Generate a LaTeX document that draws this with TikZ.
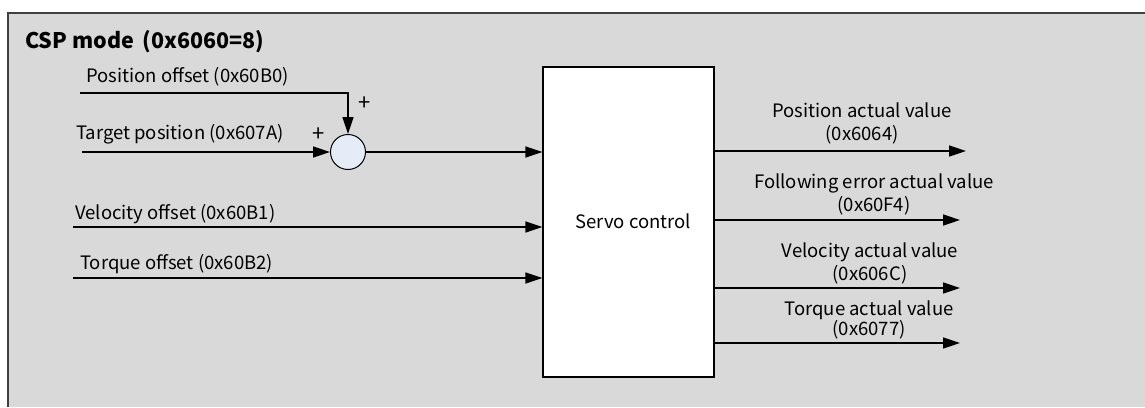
\documentclass[tikz,border=0pt]{standalone}
\usepackage{fontspec}
\setmainfont{Noto Sans CJK SC}
\usetikzlibrary{arrows.meta,positioning}

\definecolor{panelgray}{HTML}{D9D9D9}
\definecolor{sumblue}{HTML}{E6ECF7}

\tikzset{
  sigline/.style={line width=1.5pt, -{Triangle[length=17pt,width=11pt]}},
  inlabel/.style={anchor=west, inner sep=0pt},
  outlabel/.style={align=center, inner sep=0pt},
  signlabel/.style={inner sep=0pt, font=\fontsize{22pt}{24pt}\selectfont},
  sumnode/.style={draw, circle, fill=sumblue, line width=1pt, minimum size=35pt, inner sep=0pt},
  ctrlbox/.style={draw, fill=white, line width=1.2pt, minimum width=171pt, minimum height=310pt, inner sep=0pt}
}

\begin{document}
\begin{tikzpicture}[x=1pt, y=-1pt,
every node/.style={font=\fontsize{18.5pt}{23pt}\selectfont}
]
% panel
\useasboundingbox (0,0) rectangle (1145,407);
\fill[panelgray] (8,13) rectangle (1145,407);
\draw[line width=1.2pt, draw=black!75] (8,407) -- (8,13) -- (1145,13);
\node[anchor=west, inner sep=0pt, font=\fontsize{21.5pt}{24pt}\selectfont\bfseries] (title) at (25,42) {CSP mode\ \,(0x6060=8)};

% blocks
\node[sumnode] (sum) at (348,152) {};
\node[ctrlbox] (servo) at (628.5,222) {};
\node[inner sep=0pt] (servotext) at (633,221) {Servo control};

% inputs
\node[inlabel] (posoff) at (86,77) {Position offset (0x60B0)};
\node[inlabel] (tarpos) at (76,134) {Target position (0x607A)};
\node[inlabel] (veloff) at (75,214) {Velocity offset (0x60B1)};
\node[inlabel] (torqoff) at (80,264) {Torque offset (0x60B2)};
\node[signlabel] (plusa) at (365,104) {+};
\node[signlabel] (plusb) at (319,135) {+};

\coordinate (posoffin) at (80,93);
\coordinate (tarposin) at (82,152);
\coordinate (veloffin) at (73,227);
\coordinate (torqoffin) at (73,278);

\draw[sigline] (posoffin) -| (sum);
\draw[sigline] (tarposin) -- (sum);
\draw[sigline] (sum) -- (sum -| servo.west);
\draw[sigline] (veloffin) -- (veloffin -| servo.west);
\draw[sigline] (torqoffin) -- (torqoffin -| servo.west);

% outputs
\coordinate (posact) at (966,151);
\coordinate (ferract) at (960,220);
\coordinate (velact) at (960,288);
\coordinate (torqact) at (960,343);

\draw[sigline] (posact -| servo.east) -- (posact);
\draw[sigline] (ferract -| servo.east) -- (ferract);
\draw[sigline] (velact -| servo.east) -- (velact);
\draw[sigline] (torqact -| servo.east) -- (torqact);

\node[outlabel] (posacttext) at (862,123) {Position actual value\\(0x6064)};
\node[outlabel] (ferracttext) at (874,194) {Following error actual value\\(0x60F4)};
\node[outlabel] (velacttext) at (870,263) {Velocity actual value\\(0x606C)};
\node[outlabel, font=\fontsize{18.5pt}{20pt}\selectfont] (torqacttext) at (869,320) {Torque actual value\\(0x6077)};
\end{tikzpicture}
\end{document}
